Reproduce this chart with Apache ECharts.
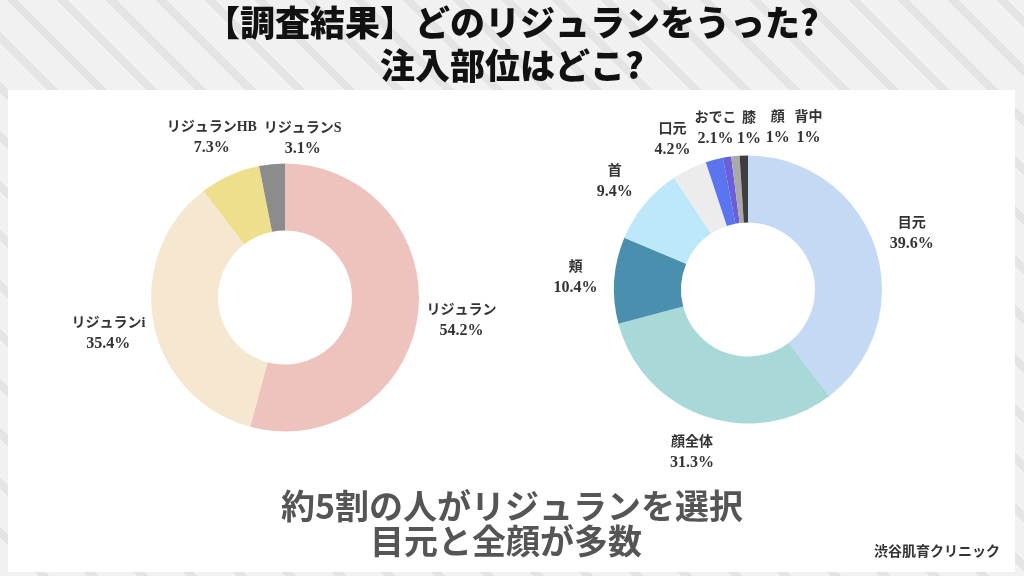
<!DOCTYPE html>
<html>
<head>
<meta charset="utf-8">
<script src="https://cdn.jsdelivr.net/npm/echarts@6/dist/echarts.min.js"></script>
<style>
  html, body { margin: 0; padding: 0; }
  body {
    width: 1024px; height: 576px; overflow: hidden;
    background: repeating-linear-gradient(45deg, #f1f1f1 0px, #f1f1f1 27px, #e4e4e4 27px, #e4e4e4 35px);
  }
  #chart { width: 1024px; height: 576px; }
</style>
</head>
<body>
<div id="chart"></div>
<script>
// ---- Data ----
const titleLines = ['【調査結果】どのリジュランをうった?', '注入部位はどこ?'];
const summaryLines = ['約5割の人がリジュランを選択', '目元と全顔が多数'];
const sourceText = '渋谷肌育クリニック';

const productNames = ['リジュラン', 'リジュランi', 'リジュランHB', 'リジュランS'];
const productValues = [54.2, 35.4, 7.3, 3.1];

const areaNames = ['目元', '顔全体', '頬', '首', '口元', 'おでこ', '膝', '顔', '背中'];
const areaValues = [39.6, 31.3, 10.4, 9.4, 4.2, 2.1, 1, 1, 1];

// ---- Styles ----
const productColors = ['#eec3bd', '#f6e7d0', '#eedf8c', '#8c8c8c'];
const areaColors = ['#c4daf4', '#a9d8d9', '#4a90ae', '#bde8f9', '#ececec', '#5b74f0', '#6a5fd8', '#a9a9a9', '#3e3e3e'];
const productLabelNudge = { 1: [-2, 2], 2: [0, 3], 3: [35, 19] };
const areaLabelNudge = { 3: [0, 3], 4: [0, 6], 5: [11, 7], 6: [28, 10], 7: [46, 11], 8: [66, 11] };

const labelFont = "'Liberation Serif', 'Noto Sans CJK JP', serif";
const sansFont = "'Noto Sans CJK JP', 'Noto Sans', sans-serif";

function toData(names, values, colors) {
  return names.map((n, i) => ({ name: n, value: values[i], itemStyle: colors ? { color: colors[i] } : undefined }));
}

const chart = echarts.init(document.getElementById('chart'), null, { renderer: 'canvas' });

function ringSeries(names, values, colors, center) {
  return {
    type: 'pie',
    center: center,
    radius: [67, 134],
    startAngle: 90,
    clockwise: true,
    silent: true,
    label: { show: false },
    labelLine: { show: false },
    emphasis: { disabled: true },
    data: toData(names, values, colors)
  };
}

function labelSeries(names, values, center, radius, nudge) {
  return {
    type: 'pie',
    center: center,
    radius: radius,
    startAngle: 90,
    clockwise: true,
    silent: true,
    itemStyle: { color: 'rgba(0,0,0,0)' },
    emphasis: { disabled: true },
    labelLine: { show: false },
    label: {
      show: true,
      position: 'inside',
      formatter: '{n|{b}}\n{v|{c}%}',
      color: '#333',
      fontFamily: labelFont,
      fontWeight: 'bold',
      align: 'center',
      textBorderWidth: 0,
      rotate: 0,
      rich: {
        n: { fontFamily: labelFont, fontWeight: 'bold', fontSize: 14, lineHeight: 20, color: '#333', align: 'center' },
        v: { fontFamily: labelFont, fontWeight: 'bold', fontSize: 16, lineHeight: 21, color: '#333', align: 'center' }
      }
    },
    labelLayout: function (p) {
      const n = nudge[p.dataIndex];
      return n ? { dx: n[0], dy: n[1] } : {};
    },
    data: toData(names, values, null)
  };
}

const option = {
  backgroundColor: 'transparent',
  animation: false,
  graphic: [
    { type: 'rect', shape: { x: 8, y: 90, width: 1007, height: 482 }, style: { fill: '#ffffff' }, z: -10, silent: true },
    { type: 'text', x: 512, y: 23, style: { text: titleLines[0], fill: '#111', font: "900 35px " + sansFont, textAlign: 'center', textVerticalAlign: 'middle' } },
    { type: 'text', x: 512, y: 66, style: { text: titleLines[1], fill: '#111', font: "900 35px " + sansFont, textAlign: 'center', textVerticalAlign: 'middle' } },
    { type: 'text', x: 512, y: 506, style: { text: summaryLines[0], fill: '#555', font: "bold 34px " + sansFont, textAlign: 'center', textVerticalAlign: 'middle' } },
    { type: 'text', x: 506, y: 541, style: { text: summaryLines[1], fill: '#555', font: "bold 34px " + sansFont, textAlign: 'center', textVerticalAlign: 'middle' } },
    { type: 'text', x: 1000, y: 551, style: { text: sourceText, fill: '#333', font: "bold 14px " + sansFont, textAlign: 'right', textVerticalAlign: 'middle' } }
  ],
  series: [
    ringSeries(productNames, productValues, productColors, [285, 297.5]),
    labelSeries(productNames, productValues, [285, 297.5], [166, 184], productLabelNudge),
    ringSeries(areaNames, areaValues, areaColors, [748, 289.5]),
    labelSeries(areaNames, areaValues, [748, 289.5], [161, 179], areaLabelNudge)
  ]
};
chart.setOption(option);
</script>
</body>
</html>
